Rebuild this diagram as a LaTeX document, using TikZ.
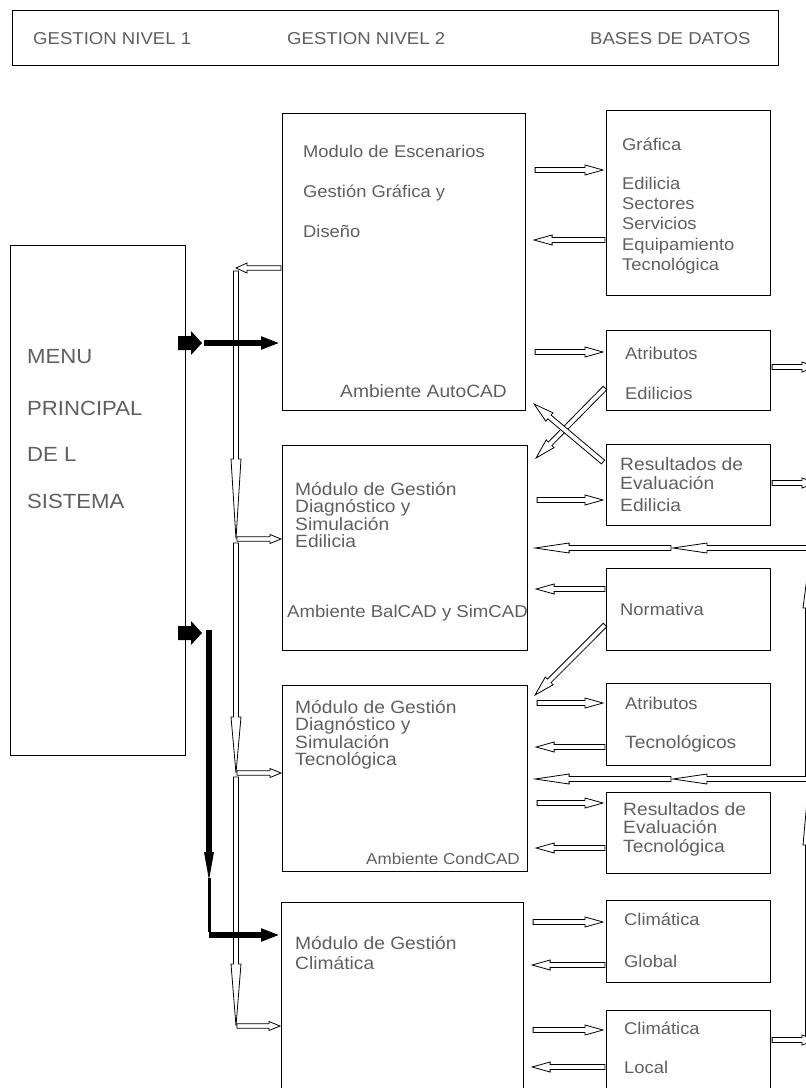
\documentclass[tikz,border=0pt]{standalone}
\usepackage{fontspec}
\setmainfont{Liberation Sans}
\newfontfamily\lblfont[FakeStretch=1.08]{Liberation Sans}
\usetikzlibrary{calc,arrows.meta}
\definecolor{txtgray}{RGB}{95,95,95}

% hollow (outlined) arrow: tail, tip, shaft half width, head half width, head length
\newcommand{\harrow}[5]{%
  \coordinate (ha) at #1;
  \coordinate (hb) at #2;
  \coordinate (hn) at ($(hb)!#5!(ha)$);
  \draw[hollow] ($(ha)!#3!90:(hb)$) -- ($(hn)!#3!90:(hb)$) -- ($(hn)!#4!90:(hb)$)
    -- (hb) -- ($(hn)!#4!-90:(hb)$) -- ($(hn)!#3!-90:(hb)$) -- ($(ha)!#3!-90:(hb)$) -- cycle;
}
% short hollow arrows between a module box and a data box, at height #3
\newcommand{\toright}[3]{\harrow{($(#1.east|-0,#3)+(9,0)$)}{($(#2.west|-0,#3)+(-3,0)$)}{2.5pt}{5pt}{18pt}}
\newcommand{\toleft}[3]{\harrow{($(#1.west|-0,#3)+(-1,0)$)}{($(#2.east|-0,#3)+(8,0)$)}{2.5pt}{5pt}{18pt}}
% solid block arrow pointing right, tip at #1
\newcommand{\blockarrow}[1]{%
  \fill ($(#1)+(-24,-7)$) -- ($(#1)+(-11,-7)$) -- ($(#1)+(-11,-12)$) -- (#1)
    -- ($(#1)+(-11,12)$) -- ($(#1)+(-11,7)$) -- ($(#1)+(-24,7)$) -- cycle;
}

\begin{document}
\begin{tikzpicture}[x=1pt,y=-1pt,
  box/.style={draw=black, line width=1.1pt, inner sep=0pt, anchor=north west},
  lbl/.style={anchor=base west, inner sep=0pt, text=txtgray, font=\lblfont\fontsize{17}{20}\selectfont},
  widelbl/.style={lbl, font=\lblfont\fontsize{17.8}{20}\selectfont},
  hdrlbl/.style={lbl, font=\lblfont\fontsize{17.2}{20}\selectfont},
  biglbl/.style={lbl, font=\lblfont\fontsize{20.5}{22}\selectfont},
  hollow/.style={draw=black, line width=0.8pt, fill=white, line join=miter},
  heavy/.style={line width=5.5pt, -{Triangle[length=19pt,width=12pt]}}
]
\useasboundingbox (0,0) rectangle (806,1088);
\clip (0,0) rectangle (806,1088);

% ---------- header ----------
\node[box, minimum width=766pt, minimum height=55pt] (hdr) at (12,10) {};
\node[hdrlbl] (h1) at (33,44) {GESTION NIVEL 1};
\node[hdrlbl] (h2) at (287,44) {GESTION NIVEL 2};
\node[hdrlbl] (h3) at (590,44) {BASES DE DATOS};

% ---------- level 1 ----------
\node[box, minimum width=175pt, minimum height=510pt] (menu) at (10,245) {};
\node[biglbl] (m1) at (27,363) {MENU};
\node[biglbl] (m2) at (27,415) {PRINCIPAL};
\node[biglbl] (m3) at (27,461) {DE L};
\node[biglbl] (m4) at (27,508) {SISTEMA};

% ---------- level 2 modules ----------
\node[box, minimum width=243pt, minimum height=297pt] (A) at (282,113) {};
\node[lbl] (a1) at (303,157) {Modulo de Escenarios};
\node[lbl] (a2) at (303,197) {Gestión Gráfica y};
\node[lbl] (a3) at (303,237) {Diseño};
\node[widelbl] (a4) at (340,397) {Ambiente AutoCAD};

\node[box, minimum width=245pt, minimum height=205pt] (B) at (282,445) {};
\node[widelbl] (b1) at (295,495) {Módulo de Gestión};
\node[widelbl] (b2) at (295,512.5) {Diagnóstico y};
\node[widelbl] (b3) at (295,530) {Simulación};
\node[widelbl] (b4) at (295,547.5) {Edilicia};
\node[lbl, font=\lblfont\fontsize{17.2}{20}\selectfont] (b5) at (287,617) {Ambiente BalCAD y SimCAD};

\node[box, minimum width=245pt, minimum height=186pt] (C) at (282,685) {};
\node[widelbl] (c1) at (295,713) {Módulo de Gestión};
\node[widelbl] (c2) at (295,730.5) {Diagnóstico y};
\node[widelbl] (c3) at (295,748) {Simulación};
\node[widelbl] (c4) at (295,765.5) {Tecnológica};
\node[lbl, font=\lblfont\fontsize{15.8}{20}\selectfont] (c5) at (366,864) {Ambiente CondCAD};

\node[box, minimum width=242pt, minimum height=200pt] (D) at (281,902) {};
\node[widelbl] (d1) at (295,949) {Módulo de Gestión};
\node[widelbl] (d2) at (295,969) {Climática};

% ---------- data bases ----------
\node[box, minimum width=164pt, minimum height=185pt] (G) at (606,110) {};
\node[lbl] (g1) at (622,150) {Gráfica};
\node[lbl] (g2) at (622,189) {Edilicia};
\node[lbl] (g3) at (622,209) {Sectores};
\node[lbl] (g4) at (622,229) {Servicios};
\node[lbl] (g5) at (622,250) {Equipamiento};
\node[lbl] (g6) at (622,270) {Tecnológica};

\node[box, minimum width=164pt, minimum height=80pt] (AE) at (606,330) {};
\node[lbl] (ae1) at (625,359) {Atributos};
\node[lbl] (ae2) at (625,399) {Edilicios};

\node[box, minimum width=164pt, minimum height=81pt] (RE) at (606,444) {};
\node[widelbl] (re1) at (620,470) {Resultados de};
\node[widelbl] (re2) at (620,489) {Evaluación};
\node[widelbl] (re3) at (620,511) {Edilicia};

\node[box, minimum width=164pt, minimum height=82pt] (N) at (606,568) {};
\node[lbl] (n1) at (620,615) {Normativa};

\node[box, minimum width=164pt, minimum height=82pt] (AT) at (606,683) {};
\node[lbl] (at1) at (625,709) {Atributos};
\node[widelbl] (at2) at (625,748) {Tecnológicos};

\node[box, minimum width=164pt, minimum height=81pt] (RT) at (606,792) {};
\node[widelbl] (rt1) at (623,815) {Resultados de};
\node[widelbl] (rt2) at (623,833) {Evaluación};
\node[widelbl] (rt3) at (623,852) {Tecnológica};

\node[box, minimum width=164pt, minimum height=82pt] (CG) at (606,900) {};
\node[lbl] (cg1) at (624,925) {Climática};
\node[lbl] (cg2) at (624,967) {Global};

\node[box, minimum width=164pt, minimum height=90pt] (CL) at (606,1010) {};
\node[lbl] (cl1) at (624,1034) {Climática};
\node[lbl] (cl2) at (624,1073) {Local};

% ---------- module <-> data base arrows ----------
\toright{A}{G}{170}
\toleft{G}{A}{240}
\toright{A}{AE}{352}
\toright{B}{RE}{500}
\toleft{N}{B}{589}
\toright{C}{AT}{703}
\toleft{AT}{C}{747}
\toright{C}{RT}{803}
\toleft{RT}{C}{848}
\toright{D}{CG}{922}
\toleft{CG}{D}{965}
\toright{D}{CL}{1030}
\toleft{CL}{D}{1067}

% crossing diagonal arrows
\harrow{($(AE.west|-0,388)+(-1,0)$)}{($(B.north east)+(8,13)$)}{2.5pt}{5.5pt}{20pt}
\harrow{($(RE.west|-0,462)+(-3,0)$)}{($(A.south east)+(8,-7)$)}{2.5pt}{5.5pt}{20pt}
\harrow{($(N.west|-0,625)+(-1,0)$)}{($(C.north east)+(7,10)$)}{2.5pt}{5.5pt}{20pt}

% feedback lines from the right edge
\coordinate (fb1) at (671,548);
\coordinate (fb2) at (671,779);
\harrow{(fb1)}{($(B.east|-fb1)+(7,0)$)}{2.5pt}{5pt}{34pt}
\harrow{(818,548)}{($(fb1)+(2,0)$)}{2.5pt}{5pt}{34pt}
\harrow{(fb2)}{($(C.east|-fb2)+(7,0)$)}{2.5pt}{5pt}{34pt}
\harrow{(818,779)}{($(fb2)+(2,0)$)}{2.5pt}{5pt}{34pt}
\harrow{(808,776)}{(808,570)}{2.5pt}{5pt}{38pt}
\harrow{(808,1040)}{(808,790)}{2.5pt}{5pt}{55pt}

% outputs leaving through the right edge
\harrow{($(AE.east|-0,367)+(1,0)$)}{(816,367)}{2.5pt}{5pt}{14pt}
\harrow{($(RE.east|-0,483)+(1,0)$)}{(816,483)}{2.5pt}{5pt}{14pt}
\harrow{($(CL.east|-0,1040)+(1,0)$)}{(816,1040)}{2.5pt}{5pt}{14pt}

% ---------- distribution bus on the left ----------
\coordinate (bus0) at (236,268);
\coordinate (bus1) at (236,539);
\coordinate (bus2) at (236,773);
\coordinate (bus3) at (236,1026);
\harrow{($(A.west|-bus0)+(-1,0)$)}{(bus0)}{2.3pt}{5pt}{11pt}
\harrow{($(bus0)+(0,3)$)}{(bus1)}{2.5pt}{5pt}{80pt}
\harrow{($(bus1)+(0,4)$)}{(bus2)}{2.5pt}{5pt}{56pt}
\harrow{($(bus2)+(0,4)$)}{(bus3)}{2.5pt}{5pt}{62pt}
\harrow{($(bus1)+(1,0)$)}{($(B.west|-bus1)+(-1,0)$)}{2.3pt}{4.5pt}{11pt}
\harrow{($(bus2)+(1,0)$)}{($(C.west|-bus2)+(-1,0)$)}{2.3pt}{4.5pt}{11pt}
\harrow{($(bus3)+(1,0)$)}{($(D.west|-bus3)+(-1,0)$)}{2.3pt}{4.5pt}{11pt}

% ---------- main control flow (solid) ----------
\coordinate (k1) at (202,343);
\coordinate (k2) at (202,633);
\blockarrow{k1}
\blockarrow{k2}
\draw[heavy] ($(k1)+(2,0)$) -- ($(A.west|-k1)+(-2,0)$);
\coordinate (k3) at (209,630);
\coordinate (k4) at (209,935);
\draw[line width=5.5pt] (k3) -- ($(k3)+(0,222)$);
\fill ($(k3)+(-5,222)$) -- ($(k3)+(5,222)$) -- ($(k3)+(0,250)$) -- cycle;
\draw[line width=3pt] ($(k3)+(0,248)$) -- ($(k4)+(0,-2.75)$);
\draw[heavy] (k4) -- ($(D.west|-k4)+(-1,0)$);
\end{tikzpicture}
\end{document}
